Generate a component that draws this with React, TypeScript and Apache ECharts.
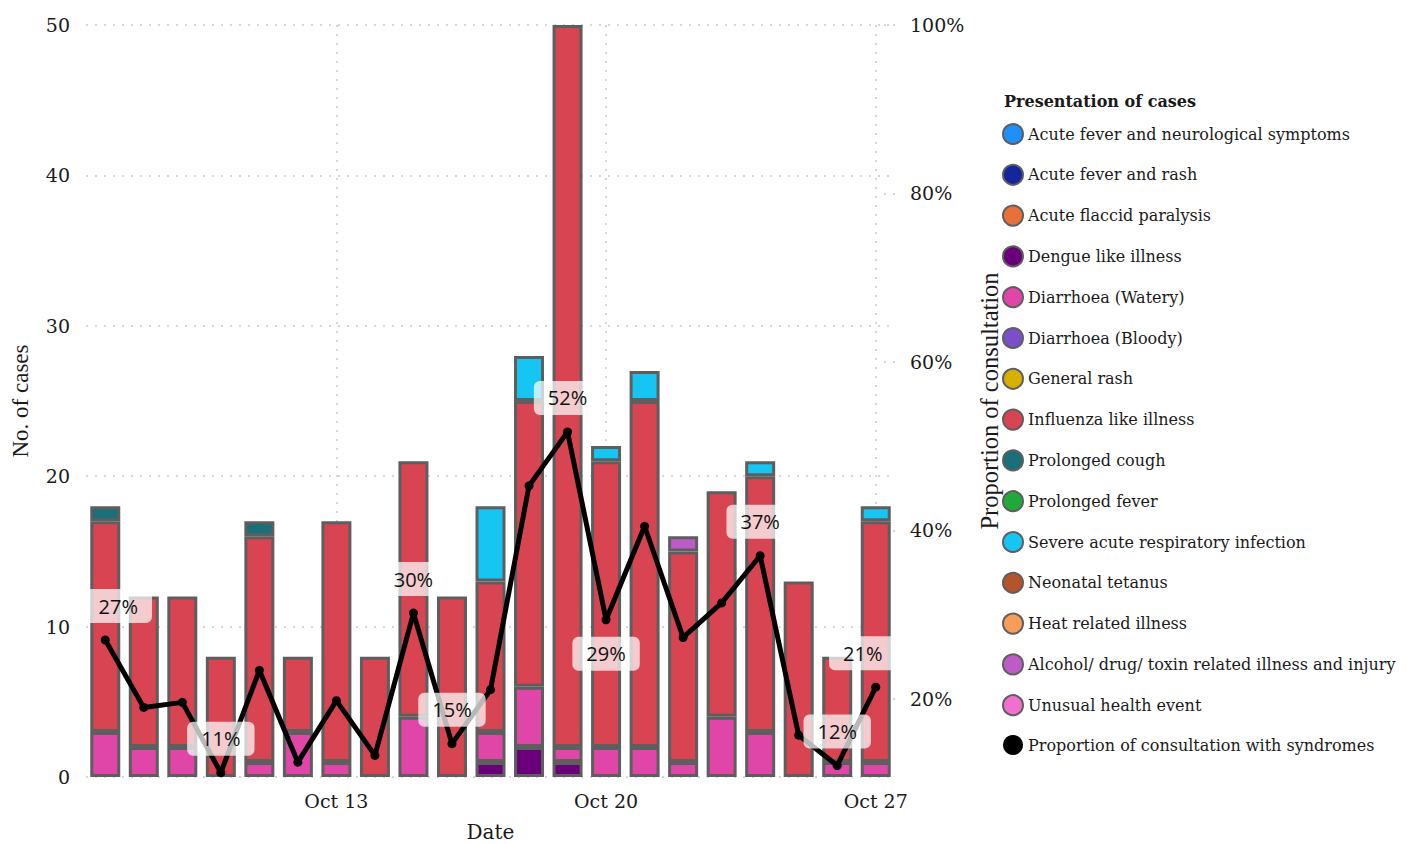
import React, { useEffect, useRef } from "react";
import * as echarts from "echarts";

const dates = [
  "Oct 7", "Oct 8", "Oct 9", "Oct 10", "Oct 11", "Oct 12", "Oct 13",
  "Oct 14", "Oct 15", "Oct 16", "Oct 17", "Oct 18", "Oct 19", "Oct 20",
  "Oct 21", "Oct 22", "Oct 23", "Oct 24", "Oct 25", "Oct 26", "Oct 27",
];

const syndromeNames = [
  "Acute fever and neurological symptoms",
  "Acute fever and rash",
  "Acute flaccid paralysis",
  "Dengue like illness",
  "Diarrhoea (Watery)",
  "Diarrhoea (Bloody)",
  "General rash",
  "Influenza like illness",
  "Prolonged cough",
  "Prolonged fever",
  "Severe acute respiratory infection",
  "Neonatal tetanus",
  "Heat related illness",
  "Alcohol/ drug/ toxin related illness and injury",
  "Unusual health event",
];

const syndromeColors = [
  "#1e8ffb", "#15259d", "#e8703a", "#6a0079", "#e046a8", "#7a4fc9", "#d6b000",
  "#d84451", "#1a6f78", "#22a83a", "#16c5f2", "#b5532b", "#f69d5a", "#bf5bc9",
  "#ef70cd",
];

// daily case counts (0 = none that day)
const dengueLike = [0, 0, 0, 0, 0, 0, 0, 0, 0, 0, 1, 2, 1, 0, 0, 0, 0, 0, 0, 0, 0];
const diarrhoeaWatery = [3, 2, 2, 0, 1, 3, 1, 0, 4, 0, 2, 4, 1, 2, 2, 1, 4, 3, 0, 1, 1];
const influenzaLike = [14, 10, 10, 8, 15, 5, 16, 8, 17, 12, 10, 19, 48, 19, 23, 14, 15, 17, 13, 7, 16];
const prolongedCough = [1, 0, 0, 0, 1, 0, 0, 0, 0, 0, 0, 0, 0, 0, 0, 0, 0, 0, 0, 0, 0];
const sari = [0, 0, 0, 0, 0, 0, 0, 0, 0, 0, 5, 3, 0, 1, 2, 0, 0, 1, 0, 0, 1];
const alcoholDrugToxin = [0, 0, 0, 0, 0, 0, 0, 0, 0, 0, 0, 0, 0, 0, 0, 1, 0, 0, 0, 0, 0];

const casesByName: Record<string, number[]> = {
  "Dengue like illness": dengueLike,
  "Diarrhoea (Watery)": diarrhoeaWatery,
  "Influenza like illness": influenzaLike,
  "Prolonged cough": prolongedCough,
  "Severe acute respiratory infection": sari,
  "Alcohol/ drug/ toxin related illness and injury": alcoholDrugToxin,
};

// proportion of consultations with syndromes (%)
const proportion = [
  27.0, 19.0, 19.6, 11.25, 23.4, 12.5, 19.8, 13.3, 30.2, 14.7, 21.1,
  45.3, 51.7, 29.4, 40.5, 27.3, 31.4, 37.0, 15.7, 12.1, 21.4,
];

const lineName = "Proportion of consultation with syndromes";
const rightTicks = [20, 40, 60, 80, 100];

// which points carry a percentage label, and how the label box is nudged
const labelNudges: Record<string, [number, number]> = {
  "Oct 7": [13, -34],
  "Oct 10": [0, -34],
  "Oct 15": [0, -34],
  "Oct 16": [0, -34],
  "Oct 19": [0, -34],
  "Oct 20": [0, 34],
  "Oct 24": [0, -34],
  "Oct 26": [0, -34],
  "Oct 27": [-13, -34],
};

const SERIF = "DejaVu Serif";
const TITLE_SERIF = "Liberation Serif";
const TXT = "#1a1a1a";
const GRID_LINE = { color: "#c9c9c9", width: 1.5, type: [2, 7] as number[] };

export default function App() {
  const ref = useRef<HTMLDivElement>(null);

  useEffect(() => {
    if (!ref.current) return;
    const chart = echarts.init(ref.current, undefined, { renderer: "svg" });

    const barSeries = syndromeNames.map((name, i) => {
      const vals = casesByName[name] || [];
      return {
        name,
        type: "bar",
        stack: "cases",
        barWidth: 30,
        data: vals.map((v) => (v > 0 ? v : "-")),
        itemStyle: {
          color: syndromeColors[i],
          borderColor: "#5e5e5e",
          borderWidth: 3,
        },
        emphasis: { disabled: true },
      };
    });

    const lineData = proportion.map((v, i) => {
      const nudge = labelNudges[dates[i]];
      if (!nudge) return v;
      return {
        value: v,
        label: {
          show: true,
          position: "inside",
          offset: nudge,
        },
      };
    });

    const option: any = {
      animation: false,
      backgroundColor: "#ffffff",
      title: {
        text: "Presentation of cases",
        left: 1004,
        top: 93,
        padding: 0,
        textStyle: {
          fontFamily: SERIF,
          fontWeight: "bold",
          fontSize: 16,
          color: TXT,
        },
      },
      legend: {
        orient: "vertical",
        left: 1002,
        top: 123,
        padding: 0,
        itemWidth: 20,
        itemHeight: 20,
        itemGap: 18.8,
        icon: "circle",
        selectedMode: false,
        data: [...syndromeNames, lineName],
        textStyle: { fontFamily: SERIF, fontSize: 16, color: TXT },
      },
      grid: {
        left: 86,
        right: 512,
        top: 25,
        bottom: 67,
        containLabel: false,
        outerBoundsMode: "none",
      },
      xAxis: {
        type: "category",
        data: dates,
        boundaryGap: true,
        name: "Date",
        nameLocation: "middle",
        nameGap: 45,
        nameTextStyle: { fontFamily: SERIF, fontSize: 20, color: TXT },
        axisLine: { show: false },
        axisTick: { show: false },
        axisLabel: {
          interval: (idx: number) => idx % 7 === 6,
          margin: 14,
          fontFamily: SERIF,
          fontSize: 19,
          color: TXT,
        },
        splitLine: {
          show: true,
          interval: (idx: number) => idx % 7 === 6,
          alignWithLabel: true,
          lineStyle: GRID_LINE,
        },
      },
      yAxis: [
        {
          type: "value",
          min: 0,
          max: 50,
          interval: 10,
          name: "No. of cases",
          nameLocation: "middle",
          nameRotate: 90,
          nameGap: 54,
          nameTextStyle: { fontFamily: TITLE_SERIF, fontSize: 23, color: TXT },
          axisLine: { show: false },
          axisTick: { show: false },
          axisLabel: { margin: 16, fontFamily: SERIF, fontSize: 19, color: TXT },
          splitLine: { show: true, lineStyle: GRID_LINE },
        },
        {
          type: "value",
          position: "right",
          min: 10.74,
          max: 100,
          name: "Proportion of consultation",
          nameLocation: "middle",
          nameRotate: 90,
          nameGap: 82,
          nameTextStyle: { fontFamily: TITLE_SERIF, fontSize: 24.5, color: TXT },
          axisLine: { show: false },
          axisTick: {
            show: true,
            inside: true,
            length: 16,
            customValues: rightTicks,
            lineStyle: GRID_LINE,
          },
          axisLabel: {
            customValues: rightTicks,
            formatter: "{value}%",
            margin: 15,
            fontFamily: SERIF,
            fontSize: 19,
            color: TXT,
          },
          splitLine: { show: false },
        },
      ],
      series: [
        ...barSeries,
        {
          name: lineName,
          type: "line",
          yAxisIndex: 1,
          data: lineData,
          z: 10,
          symbol: "circle",
          symbolSize: 9,
          itemStyle: { color: "#000000" },
          lineStyle: { color: "#000000", width: 5 },
          emphasis: { disabled: true },
          label: {
            show: false,
            formatter: (p: any) => `${Math.round(p.value)}%`,
            fontFamily: "Open Sans",
            fontSize: 20,
            lineHeight: 20,
            color: "#111111",
            backgroundColor: "rgba(255,255,255,0.72)",
            padding: [7, 14],
            borderRadius: 6,
          },
        },
      ],
    };

    chart.setOption(option);
    return () => chart.dispose();
  }, []);

  return (
    <div
      ref={ref}
      style={{ position: "absolute", left: 0, top: 0, width: 1407, height: 844 }}
    />
  );
}
